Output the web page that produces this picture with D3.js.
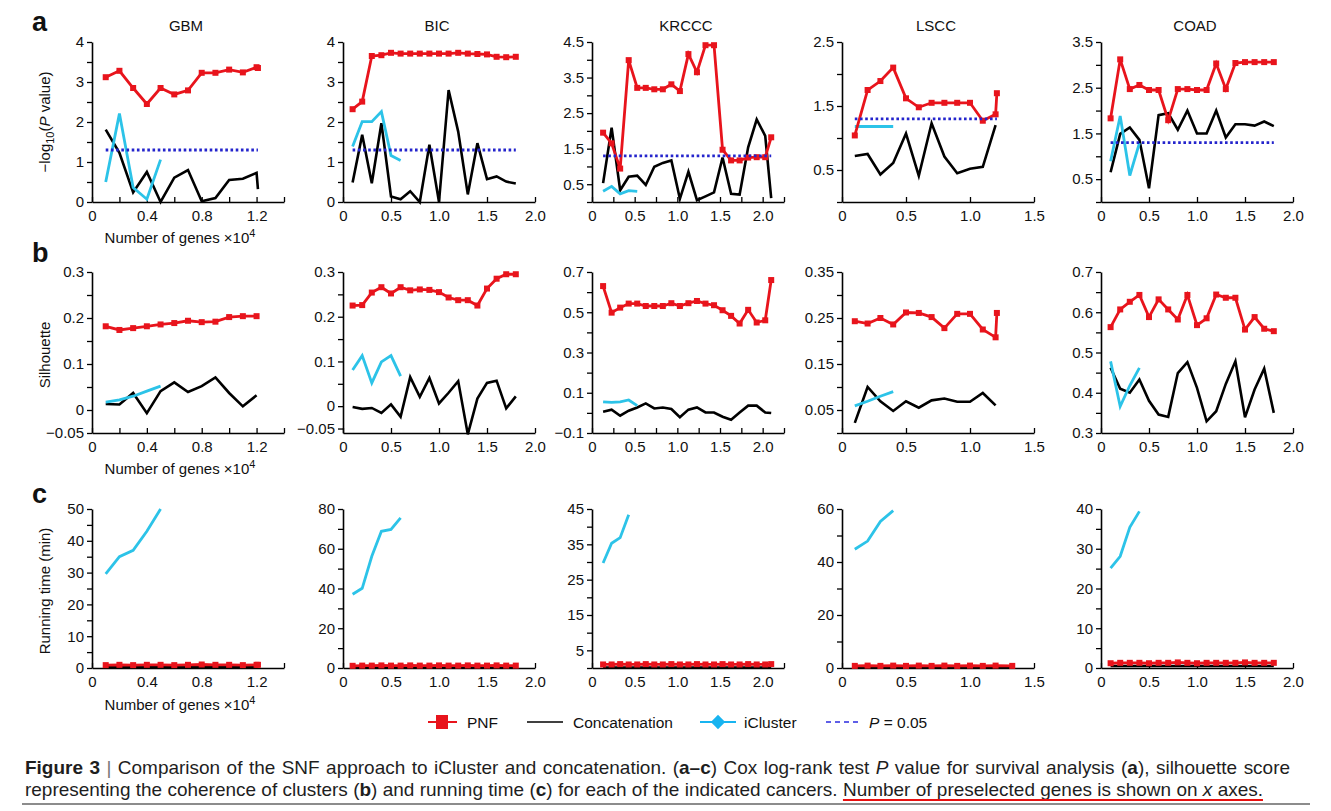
<!DOCTYPE html>
<html><head><meta charset="utf-8">
<script src="https://cdn.jsdelivr.net/npm/d3@7"></script>
<style>body{margin:0;background:#fff}svg{display:block}</style>
</head><body>
<svg id="c" width="1331" height="811"></svg>
<script>
// ---------------- DATA ----------------
const cancers = ["GBM","BIC","KRCCC","LSCC","COAD"];

// x values (number of genes ×10^4)
const xGBM   = [0.1,0.2,0.3,0.4,0.5,0.6,0.7,0.8,0.9,1.0,1.1,1.2,1.21];
const xBIC   = [0.1,0.2,0.3,0.4,0.5,0.6,0.7,0.8,0.9,1.0,1.1,1.2,1.3,1.4,1.5,1.6,1.7,1.8];
const xKRCCC = [0.13,0.23,0.33,0.43,0.53,0.63,0.73,0.83,0.93,1.03,1.13,1.23,1.33,1.43,1.53,1.63,1.73,1.83,1.93,2.03,2.10];
const xLSCC  = [0.1,0.2,0.3,0.4,0.5,0.6,0.7,0.8,0.9,1.0,1.1,1.2,1.21];
const xLSCCtime = [0.1,0.2,0.3,0.4,0.5,0.6,0.7,0.8,0.9,1.0,1.1,1.2,1.33];
const xCOAD  = [0.1,0.2,0.3,0.4,0.5,0.6,0.7,0.8,0.9,1.0,1.1,1.2,1.3,1.4,1.5,1.6,1.7,1.8];

// (a) -log10(P value)
const gbmSurvPNF    = [3.12,3.28,2.85,2.45,2.85,2.69,2.79,3.23,3.23,3.31,3.24,3.37,3.35];
const gbmSurvConcat = [1.81,1.23,0.24,0.75,0.0,0.61,0.80,0.02,0.10,0.55,0.58,0.73,0.32];
const gbmSurvIClu   = [0.50,2.21,0.36,0.07,1.06];
const bicSurvPNF    = [2.32,2.51,3.65,3.67,3.73,3.71,3.71,3.71,3.71,3.71,3.71,3.73,3.71,3.70,3.69,3.63,3.62,3.63];
const bicSurvConcat = [0.49,1.68,0.47,1.97,0.14,0.07,0.27,0.0,1.43,0.0,2.80,1.76,0.19,1.47,0.57,0.64,0.51,0.46];
const bicSurvIClu   = [1.39,2.01,2.01,2.26,1.16,1.04];
const krSurvPNF     = [1.95,1.65,0.94,3.99,3.21,3.21,3.17,3.17,3.31,3.12,4.16,3.65,4.41,4.41,1.47,1.17,1.17,1.25,1.26,1.26,1.82];
const krSurvConcat  = [0.53,2.09,0.33,0.71,0.74,0.48,0.99,1.10,1.17,0.09,0.85,0.05,0.16,0.27,1.25,0.23,0.21,1.54,2.32,1.86,0.11];
const krSurvIClu    = [0.30,0.44,0.23,0.32,0.30];
const lsSurvPNF     = [1.04,1.75,1.89,2.10,1.62,1.48,1.55,1.55,1.55,1.55,1.27,1.37,1.70];
const lsSurvConcat  = [0.72,0.75,0.43,0.61,1.07,0.41,1.23,0.71,0.45,0.52,0.55,1.20];
const lsSurvIClu    = [1.18,1.18,1.18,1.18];
const coSurvPNF     = [1.83,3.12,2.47,2.56,2.45,2.45,1.79,2.47,2.47,2.45,2.45,3.03,2.47,3.04,3.06,3.06,3.06,3.06];
const coSurvConcat  = [0.65,1.49,1.63,1.36,0.30,1.90,1.94,1.58,2.00,1.50,1.50,2.00,1.41,1.70,1.70,1.67,1.76,1.66];
const coSurvIClu    = [0.89,1.88,0.58,1.29];
const pThreshold = 1.30; // -log10(0.05)

// (b) silhouette
const gbmSilPNF    = [0.182,0.174,0.178,0.182,0.186,0.189,0.194,0.191,0.192,0.202,0.204,0.204];
const gbmSilConcat = [0.013,0.012,0.037,-0.007,0.041,0.060,0.039,0.052,0.071,0.037,0.008,0.032];
const gbmSilIClu   = [0.017,0.022,0.030,0.041,0.052];
const bicSilPNF    = [0.225,0.226,0.254,0.266,0.252,0.266,0.259,0.261,0.260,0.255,0.243,0.237,0.237,0.225,0.263,0.285,0.295,0.295];
const bicSilConcat = [-0.002,-0.006,-0.004,-0.015,0.004,-0.024,0.065,0.021,0.063,0.006,0.030,0.056,-0.063,0.017,0.052,0.057,-0.005,0.022];
const bicSilIClu   = [0.081,0.113,0.052,0.099,0.113,0.067];
const krSilPNF     = [0.63,0.498,0.523,0.543,0.543,0.531,0.531,0.531,0.545,0.531,0.545,0.556,0.543,0.535,0.51,0.482,0.444,0.512,0.449,0.460,0.66];
const krSilConcat  = [0.006,0.016,-0.014,0.011,0.027,0.047,0.022,0.027,0.019,-0.022,0.016,0.027,0.002,0.002,-0.019,-0.034,0.002,0.036,0.036,0.002,-0.001];
const krSilIClu    = [0.055,0.052,0.055,0.064,0.036];
const lsSilPNF     = [0.243,0.238,0.250,0.236,0.262,0.261,0.252,0.228,0.259,0.259,0.225,0.208,0.261];
const lsSilConcat  = [0.022,0.100,0.069,0.048,0.069,0.055,0.071,0.075,0.068,0.068,0.087,0.060];
const lsSilIClu    = [0.059,0.069,0.080,0.090];
const coSilPNF     = [0.563,0.607,0.626,0.643,0.588,0.632,0.607,0.582,0.643,0.568,0.585,0.644,0.636,0.636,0.557,0.588,0.559,0.553];
const coSilConcat  = [0.462,0.410,0.400,0.433,0.380,0.346,0.340,0.449,0.476,0.412,0.329,0.354,0.422,0.478,0.339,0.408,0.460,0.350];
const coSilIClu    = [0.478,0.366,0.418,0.462];

// (c) running time (min)
const gbmTimePNF    = [0.9,1.0,0.9,1.0,1.0,0.9,1.0,1.1,1.0,1.0,0.9,1.0,1.0];
const gbmTimeConcat = [0.2,0.2,0.2,0.3,0.2,0.2,0.3,0.2,0.2,0.3,0.2,0.2,0.2];
const gbmTimeIClu   = [29.6,35.0,37.0,43.0,50.0];
const bicTimePNF    = [1.1,1.2,1.2,1.3,1.2,1.2,1.3,1.2,1.2,1.3,1.2,1.2,1.3,1.2,1.2,1.3,1.2,1.2];
const bicTimeConcat = [0.3,0.3,0.3,0.3,0.3,0.3,0.3,0.3,0.3,0.3,0.3,0.3,0.3,0.3,0.3,0.3,0.3,0.3];
const bicTimeIClu   = [37.1,40.1,56.2,68.8,69.7,75.5];
const krTimePNF     = [1.0,1.0,1.1,1.0,1.0,1.1,1.0,1.0,1.1,1.0,1.0,1.1,1.0,1.0,1.1,1.0,1.0,1.1,1.0,1.0,1.1];
const krTimeConcat  = [0.1,0.1,0.1,0.1,0.1,0.1,0.1,0.1,0.1,0.1,0.1,0.1,0.1,0.1,0.1,0.1,0.1,0.1,0.1,0.1,0.1];
const krTimeIClu    = [29.7,35.3,36.9,43.4];
const lsTimePNF     = [0.8,0.9,0.8,0.9,0.8,0.9,0.8,0.9,0.8,0.9,0.8,0.9,0.8];
const lsTimeConcat  = [0.2,0.2,0.2,0.2,0.2,0.2,0.2,0.2,0.2,0.2,0.2,0.2,0.2];
const lsTimeIClu    = [44.8,47.9,55.3,59.4];
const coTimePNF     = [1.2,1.3,1.3,1.3,1.2,1.3,1.3,1.4,1.3,1.2,1.3,1.3,1.3,1.3,1.4,1.3,1.3,1.3];
const coTimeConcat  = [0.5,0.5,0.5,0.5,0.5,0.5,0.5,0.5,0.5,0.5,0.5,0.5,0.5,0.5,0.5,0.5,0.5,0.5];
const coTimeIClu    = [25.1,28.1,35.4,39.4];

// axis domains, ticks and tick labels
const xDomains = [[0,1.4],[0,2],[0,2.25],[0,1.5],[0,2]];
const xTickVals = [[0,0.2,0.4,0.6,0.8,1.0,1.2,1.4],[0,0.5,1,1.5,2],[0,0.25,0.5,0.75,1,1.25,1.5,1.75,2,2.25],[0,0.5,1,1.5],[0,0.5,1,1.5,2]];
const xTickLabels = [[0,0.4,0.8,1.2],[0,0.5,1,1.5,2],[0,0.5,1,1.5,2],[0,0.5,1,1.5],[0,0.5,1,1.5,2]];

const survDomains = [[0,4],[0,4],[0,4.5],[0,2.5],[0,3.5]];
const survTicks = [[0,0.5,1,1.5,2,2.5,3,3.5,4],[0,0.5,1,1.5,2,2.5,3,3.5,4],[0,0.5,1,1.5,2,2.5,3,3.5,4,4.5],[0,0.5,1,1.5,2,2.5],[0,0.5,1,1.5,2,2.5,3,3.5]];
const survLabels = [[0,1,2,3,4],[0,1,2,3,4],[0.5,1.5,2.5,3.5,4.5],[0.5,1.5,2.5],[0.5,1.5,2.5,3.5]];

const silDomains = [[-0.05,0.3],[-0.06,0.3],[-0.1,0.7],[0,0.35],[0.3,0.7]];
const silTicks = [[-0.05,0,0.05,0.1,0.15,0.2,0.25,0.3],[-0.05,0,0.05,0.1,0.15,0.2,0.25,0.3],[-0.1,0,0.1,0.2,0.3,0.4,0.5,0.6,0.7],[0,0.05,0.1,0.15,0.2,0.25,0.3,0.35],[0.3,0.35,0.4,0.45,0.5,0.55,0.6,0.65,0.7]];
const silLabels = [[-0.05,0,0.1,0.2,0.3],[-0.05,0,0.1,0.2,0.3],[-0.1,0.1,0.3,0.5,0.7],[0.05,0.15,0.25,0.35],[0.3,0.4,0.5,0.6,0.7]];

const timeDomains = [[0,50],[0,80],[0,45],[0,60],[0,40]];
const timeTicks = [[0,5,10,15,20,25,30,35,40,45,50],[0,10,20,30,40,50,60,70,80],[0,5,10,15,20,25,30,35,40,45],[0,10,20,30,40,50,60],[0,5,10,15,20,25,30,35,40]];
const timeLabels = [[0,10,20,30,40,50],[0,20,40,60,80],[5,15,25,35,45],[0,20,40,60],[0,10,20,30,40]];

// ---------------- LAYOUT ----------------
const FONT = "'Liberation Sans', Arial, Helvetica, sans-serif";
const RED = "#e8141c", CYAN = "#2cc3e8", BLUE = "#2424cc";
const colX = [92, 343, 592, 842, 1101];
const PW = 192;
const rowY = [[202, 42], [433, 272], [668, 509]];

const svg = d3.select("#c");

const xs = [xGBM, xBIC, xKRCCC, xLSCC, xCOAD];
const xsTime = [xGBM, xBIC, xKRCCC, xLSCCtime, xCOAD];
const rows = [
  { dom: survDomains, ticks: survTicks, labels: survLabels,
    pnf: [gbmSurvPNF,bicSurvPNF,krSurvPNF,lsSurvPNF,coSurvPNF],
    con: [gbmSurvConcat,bicSurvConcat,krSurvConcat,lsSurvConcat,coSurvConcat],
    icl: [gbmSurvIClu,bicSurvIClu,krSurvIClu,lsSurvIClu,coSurvIClu], xs: xs, pline: true },
  { dom: silDomains, ticks: silTicks, labels: silLabels,
    pnf: [gbmSilPNF,bicSilPNF,krSilPNF,lsSilPNF,coSilPNF],
    con: [gbmSilConcat,bicSilConcat,krSilConcat,lsSilConcat,coSilConcat],
    icl: [gbmSilIClu,bicSilIClu,krSilIClu,lsSilIClu,coSilIClu], xs: xs, pline: false },
  { dom: timeDomains, ticks: timeTicks, labels: timeLabels,
    pnf: [gbmTimePNF,bicTimePNF,krTimePNF,lsTimePNF,coTimePNF],
    con: [gbmTimeConcat,bicTimeConcat,krTimeConcat,lsTimeConcat,coTimeConcat],
    icl: [gbmTimeIClu,bicTimeIClu,krTimeIClu,lsTimeIClu,coTimeIClu], xs: xsTime, pline: false }
];

const near = (arr, d) => arr.some(v => Math.abs(v - d) < 1e-9);
const fmtY = d => Math.abs(d) < 1e-9 ? "0" : (d < 0 ? "\u2212" : "") + String(+Math.abs(d).toFixed(2));
const fmtX = d => Math.abs(d) < 1e-9 ? "0" : d3.format(".1f")(d);

function styleAxis(a) {
  a.select(".domain").attr("stroke", "#000").attr("stroke-width", 1.6);
  a.selectAll(".tick line").attr("stroke", "#000").attr("stroke-width", 1.3);
  a.selectAll("text").attr("font-family", FONT).attr("font-size", 15).attr("fill", "#111");
}

rows.forEach((R, ri) => {
  cancers.forEach((cn, ci) => {
    const x0 = colX[ci], [yb, yt] = rowY[ri];
    const x = d3.scaleLinear().domain(xDomains[ci]).range([x0, x0 + PW]);
    const y = d3.scaleLinear().domain(R.dom[ci]).range([yb, yt]);
    const g = svg.append("g");

    const ya = d3.axisLeft(y).tickValues(R.ticks[ci]).tickSizeInner(5).tickSizeOuter(0).tickPadding(3)
      .tickFormat(d => near(R.labels[ci], d) ? fmtY(d) : "");
    styleAxis(g.append("g").attr("transform", `translate(${x0},0)`).call(ya));

    const xa = d3.axisBottom(x).tickValues(xTickVals[ci]).tickSizeInner(-5).tickSizeOuter(0).tickPadding(8)
      .tickFormat(d => near(xTickLabels[ci], d) ? fmtX(d) : "");
    styleAxis(g.append("g").attr("transform", `translate(0,${yb})`).call(xa));

    const X = R.xs[ci];
    const line = d3.line().x((d, i) => x(X[i])).y(d => y(d));

    g.append("path").attr("d", line(R.con[ci])).attr("fill", "none")
      .attr("stroke", "#000").attr("stroke-width", 2.6).attr("stroke-linejoin", "miter");
    g.append("path").attr("d", line(R.icl[ci])).attr("fill", "none")
      .attr("stroke", CYAN).attr("stroke-width", 2.8);
    g.append("path").attr("d", line(R.pnf[ci])).attr("fill", "none")
      .attr("stroke", RED).attr("stroke-width", 2.8);
    g.selectAll("rect.m").data(R.pnf[ci]).enter().append("rect")
      .attr("x", (d, i) => x(X[i]) - 3).attr("y", d => y(d) - 3)
      .attr("width", 6).attr("height", 6).attr("fill", RED);

    if (R.pline) {
      const ends = [X[0], X[X.length - 1]];
      g.append("path").attr("d", d3.line().x(d => x(d)).y(() => y(pThreshold))(ends))
        .attr("stroke", BLUE).attr("stroke-width", 2.8).attr("stroke-dasharray", "2.6,2.6").attr("fill", "none");
    }
    if (ri === 0) {
      g.append("text").attr("x", x0 + PW / 2 - 2).attr("y", 31).attr("text-anchor", "middle")
        .attr("font-family", FONT).attr("font-size", 15).attr("fill", "#111").text(cn);
    }
  });

  // x-axis title under GBM
  const xt = svg.append("text").attr("x", 180).attr("y", [243, 474, 710][ri]).attr("text-anchor", "middle")
    .attr("font-family", FONT).attr("font-size", 15).attr("fill", "#111");
  xt.append("tspan").text("Number of genes \u00d710");
  xt.append("tspan").attr("dy", -6).attr("font-size", 11).text("4");
});

// panel letters
[["a", 31], ["b", 262], ["c", 503]].forEach(([t, yy]) => {
  svg.append("text").attr("x", 32).attr("y", yy).attr("font-family", FONT).attr("font-weight", "bold")
    .attr("font-size", 27).attr("fill", "#111").text(t);
});

// y-axis titles
function yTitle(cy, build) {
  const t = svg.append("text").attr("transform", `translate(50,${cy}) rotate(-90)`).attr("text-anchor", "middle")
    .attr("font-family", FONT).attr("font-size", 15).attr("fill", "#111");
  build(t);
}
yTitle(122, t => {
  t.append("tspan").text("\u2212log");
  t.append("tspan").attr("font-size", 11).attr("dy", 4).text("10");
  t.append("tspan").attr("dy", -4).text("(");
  t.append("tspan").attr("font-style", "italic").text("P");
  t.append("tspan").text(" value)");
});
yTitle(355, t => t.text("Silhouette"));
yTitle(591, t => t.text("Running time (min)"));

// legend
const LY = 722;
const lg = svg.append("g");
lg.append("line").attr("x1", 428).attr("x2", 457).attr("y1", LY).attr("y2", LY).attr("stroke", RED).attr("stroke-width", 2);
lg.append("rect").attr("x", 436).attr("y", LY - 7).attr("width", 12).attr("height", 14).attr("fill", RED);
lg.append("line").attr("x1", 527).attr("x2", 563).attr("y1", LY).attr("y2", LY).attr("stroke", "#000").attr("stroke-width", 1.6);
lg.append("line").attr("x1", 700).attr("x2", 736).attr("y1", LY).attr("y2", LY).attr("stroke", "#18b4f0").attr("stroke-width", 2);
lg.append("path").attr("d", d3.symbol().type(d3.symbolDiamond2).size(130)()).attr("transform", `translate(718,${LY})`).attr("fill", "#18b4f0");
lg.append("line").attr("x1", 826).attr("x2", 862).attr("y1", LY).attr("y2", LY).attr("stroke", "#2a2ae0").attr("stroke-width", 1.4).attr("stroke-dasharray", "5,4");
const legT = (xx, build) => { const t = lg.append("text").attr("x", xx).attr("y", LY + 5.5).attr("font-family", FONT).attr("font-size", 15.5).attr("fill", "#111"); build(t); };
legT(467, t => t.text("PNF"));
legT(573, t => t.text("Concatenation"));
legT(744, t => t.text("iCluster"));
legT(869, t => { t.append("tspan").attr("font-style", "italic").text("P"); t.append("tspan").text(" = 0.05"); });

// caption: common font size chosen so the lines fit, then justified with word spacing
const CF = "'Liberation Sans Narrow', 'Liberation Sans', Arial, sans-serif";
function capLine(yy, parts) {
  const t = svg.append("text").attr("x", 25).attr("y", yy).attr("font-family", CF).attr("font-size", 20).attr("fill", "#1e1e1e");
  parts.forEach(p => {
    const s = t.append("tspan").text(p[0]);
    if (p[1] === "b") s.attr("font-weight", "bold");
    if (p[1] === "i") s.attr("font-style", "italic");
    if (p[1] === "l") s.attr("fill", "#777");
  });
  return t;
}
const l1 = capLine(774, [["Figure 3", "b"], [" | ", "l"], ["Comparison of the SNF approach to iCluster and concatenation. (", ""], ["a\u2013c", "b"],
  [") Cox log-rank test ", ""], ["P", "i"], [" value for survival analysis (", ""], ["a", "b"], ["), silhouette score", ""]]);
const pre2 = "representing the coherence of clusters (b) and running time (c) for each of the indicated cancers. ";
const l2 = capLine(796, [["representing the coherence of clusters (", ""], ["b", "b"], [") and running time (", ""], ["c", "b"],
  [") for each of the indicated cancers. ", ""], ["Number of preselected genes is shown on ", ""], ["x", "i"], [" axes.", ""]]);
const targets = [[l1, 1265], [l2, 1238]];
const fs = d3.min(targets, ([t, w]) => 20 * w / t.node().getComputedTextLength());
targets.forEach(([t, w]) => {
  t.attr("font-size", fs);
  const len = t.node().getComputedTextLength();
  const spaces = (t.text().match(/ /g) || []).length;
  if (len < w && spaces) t.attr("word-spacing", (w - len) / spaces);
});
// red underline under last sentence
const node = l2.node();
const nChars = node.getNumberOfChars();
let ux1 = 851, ux2 = 1262;
try {
  ux1 = node.getExtentOfChar(pre2.length).x;
  const e = node.getExtentOfChar(nChars - 1);
  ux2 = e.x + e.width;
} catch (e) {}
svg.append("line").attr("x1", ux1).attr("x2", ux2).attr("y1", 800).attr("y2", 800).attr("stroke", "#e81010").attr("stroke-width", 2);
svg.append("line").attr("x1", 22).attr("x2", 1310).attr("y1", 804).attr("y2", 804).attr("stroke", "#666").attr("stroke-width", 1.5);
</script>
</body></html>
